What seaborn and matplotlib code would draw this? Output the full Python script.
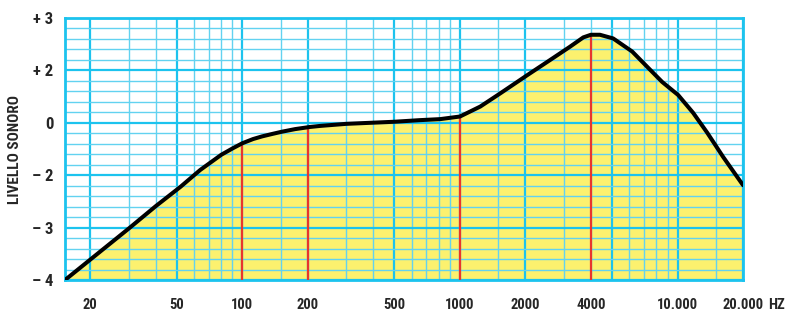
import numpy as np
import pandas as pd
import matplotlib
matplotlib.use("Agg")
import matplotlib.pyplot as plt
import seaborn as sns

# frequency response (y in grid rows: 0 = -4 ... 5 = +3)
freq_hz = [15.3, 20, 30, 40, 52, 64, 80, 90, 100, 112, 123, 138, 152, 175,
           204, 227, 300, 500, 650, 810, 1000, 1240, 1530, 2040, 2600, 3200,
           3690, 4000, 4400, 5060, 6190, 7250, 8500, 10070, 11800, 13700,
           16200, 20000]
level = [0.0, 0.39, 0.98, 1.41, 1.78, 2.10, 2.39, 2.51, 2.61, 2.69, 2.74,
         2.79, 2.83, 2.88, 2.92, 2.94, 2.98, 3.02, 3.05, 3.07, 3.12, 3.31,
         3.56, 3.91, 4.20, 4.45, 4.63, 4.68, 4.68, 4.61, 4.36, 4.07, 3.78,
         3.53, 3.19, 2.81, 2.35, 1.81]

y_tick_pos = [0, 1, 2, 3, 4, 5]
y_tick_labels = ["\u2013 4", "\u2013 3", "\u2013 2", "0", "+ 2", "+ 3"]
x_tick_pos = [20, 50, 100, 200, 500, 1000, 2000, 4000, 10000, 20000]
x_tick_labels = ["20", "50", "100", "200", "500", "1000", "2000", "4000", "10.000", "20.000"]
major_grid_hz = [20, 50, 100, 200, 500, 1000, 2000, 5000, 10000, 20000]
minor_grid_hz = [30, 40, 60, 70, 80, 90, 150, 300, 400, 600, 700, 800, 900,
                 1500, 3000, 4000, 6000, 7000, 8000, 9000, 15000]
marker_hz = [100, 200, 1000, 4000]

df = pd.DataFrame({"freq": freq_hz, "level": level})

sns.set_theme(style="white")
plt.rcParams["font.family"] = ["Roboto Condensed", "DejaVu Sans"]
plt.rcParams["font.stretch"] = "condensed"

cyan = "#1cc3ee"
cyan_light = "#62d2f0"

fig = plt.figure(figsize=(7.85, 3.12), dpi=100)
ax = fig.add_axes([65 / 785, 32 / 312, 678 / 785, 262 / 312])
ax.set_xscale("log")
ax.set_xlim(15.3, 20000)
ax.set_ylim(0, 5)

ax.fill_between(df["freq"], 0, df["level"], color="#fcf16e", lw=0, zorder=1)

for f in minor_grid_hz:
    ax.axvline(f, color=cyan_light, lw=1.0, zorder=2)
for f in major_grid_hz:
    ax.axvline(f, color=cyan, lw=1.6, zorder=2)
for yv in np.arange(0, 5.01, 0.2):
    if abs(yv - round(yv)) < 1e-6:
        ax.axhline(yv, color=cyan, lw=1.6, zorder=2)
    else:
        ax.axhline(yv, color=cyan_light, lw=1.0, zorder=2)

marker_top = np.interp(np.log10(marker_hz), np.log10(freq_hz), level)
ax.vlines(marker_hz, 0, marker_top, color="#e8352d", lw=1.6, zorder=3)

sns.lineplot(data=df, x="freq", y="level", ax=ax, color="black", lw=2.9, zorder=4)

for s in ax.spines.values():
    s.set_color(cyan)
    s.set_linewidth(2)

ax.set_xticks(x_tick_pos)
ax.set_xticklabels(x_tick_labels, fontsize=10.5, fontweight="bold")
ax.xaxis.set_minor_locator(matplotlib.ticker.NullLocator())
ax.set_yticks(y_tick_pos)
ax.set_yticklabels(y_tick_labels, fontsize=12, fontweight="bold")
ax.tick_params(axis="x", length=0, pad=13)
ax.tick_params(axis="y", length=0, pad=8.5)
ax.set_xlabel("")
ax.set_ylabel("LIVELLO SONORO", fontsize=11, fontweight="bold")
ax.yaxis.set_label_coords(-0.0634, 0.5)
ax.annotate("HZ", xy=(1, 0.5), xycoords=ax.get_xticklabels()[-1],
            xytext=(3, 0), textcoords="offset points", ha="left", va="center",
            fontsize=10.5, fontweight="bold")

fig.savefig("out.png", dpi=100)
